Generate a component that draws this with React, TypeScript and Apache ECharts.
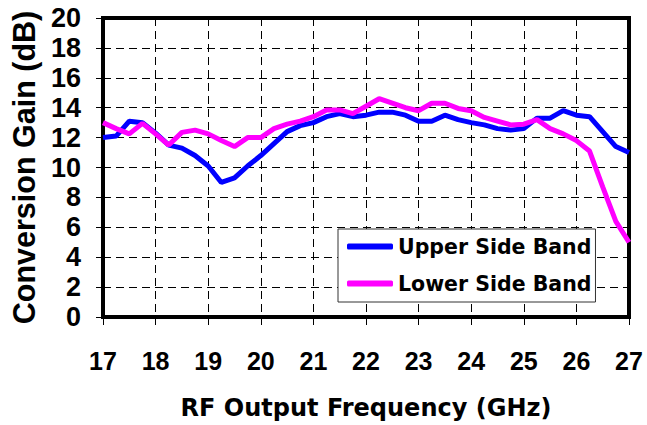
import React, { useEffect, useRef } from "react";
import * as echarts from "echarts";

const freqGHz = [
  17.0, 17.25, 17.5, 17.75, 18.0, 18.25, 18.5, 18.75, 19.0, 19.25, 19.5, 19.75,
  20.0, 20.25, 20.5, 20.75, 21.0, 21.25, 21.5, 21.75, 22.0, 22.25, 22.5, 22.75,
  23.0, 23.25, 23.5, 23.75, 24.0, 24.25, 24.5, 24.75, 25.0, 25.25, 25.5, 25.75,
  26.0, 26.25, 26.5, 26.75, 27.0,
];

const upperSideBand = [
  12.0, 12.1, 13.1, 13.0, 12.3, 11.5, 11.3, 10.8, 10.1, 9.0, 9.3, 10.1,
  10.8, 11.6, 12.4, 12.8, 13.0, 13.4, 13.6, 13.4, 13.5, 13.7, 13.7, 13.5,
  13.1, 13.1, 13.5, 13.2, 13.0, 12.85, 12.6, 12.5, 12.6, 13.3, 13.3, 13.8,
  13.5, 13.4, 12.4, 11.4, 11.0,
];

const lowerSideBand = [
  13.0, 12.6, 12.25, 12.95, 12.25, 11.5, 12.35, 12.5, 12.25, 11.8, 11.4, 12.0,
  12.0, 12.6, 12.9, 13.1, 13.4, 13.85, 13.85, 13.6, 14.1, 14.6, 14.3, 14.0,
  13.8, 14.3, 14.3, 13.95, 13.8, 13.35, 13.1, 12.85, 12.9, 13.2, 12.6, 12.25,
  11.8, 11.1, 8.7, 6.4, 5.0,
];

const seriesNames = ["Upper Side Band", "Lower Side Band"];
const xAxisTitle = "RF Output Frequency (GHz)";
const yAxisTitle = "Conversion Gain (dB)";

export default function App() {
  const ref = useRef<HTMLDivElement>(null);

  useEffect(() => {
    if (!ref.current) return;
    const chart = echarts.init(ref.current, null, { renderer: "svg" });
    const dash = [8, 5];
    chart.setOption({
      animation: false,
      backgroundColor: "#ffffff",
      grid: {
        left: 102,
        right: 18,
        top: 18,
        bottom: 107,
        show: true,
        borderColor: "#000",
        borderWidth: 4,
        backgroundColor: "transparent",
      },
      legend: {
        orient: "vertical",
        left: 338,
        top: 229,
        padding: [7, 4, 8, 9],
        itemGap: 16,
        itemWidth: 46,
        itemHeight: 6,
        icon: "roundRect",
        backgroundColor: "#fff",
        borderColor: "#333",
        borderWidth: 1,
        borderRadius: 0,
        data: seriesNames,
        textStyle: {
          fontFamily: "DejaVu Sans",
          fontWeight: "bold",
          fontSize: 20.5,
          color: "#000",
        },
      },
      xAxis: {
        type: "value",
        min: 17,
        max: 27,
        interval: 1,
        name: xAxisTitle,
        nameLocation: "middle",
        nameGap: 79,
        nameTextStyle: {
          fontFamily: "DejaVu Sans",
          fontWeight: "bold",
          fontSize: 24,
          color: "#000",
        },
        axisLine: { show: true, onZero: false, lineStyle: { color: "#000", width: 3 } },
        axisTick: { show: true, inside: false, length: 8, lineStyle: { color: "#000", width: 1 } },
        axisLabel: {
          margin: 31,
          fontFamily: "Liberation Sans",
          fontWeight: "bold",
          fontSize: 25,
          color: "#000",
        },
        splitLine: { show: true, lineStyle: { color: "#000", width: 1, type: dash } },
      },
      yAxis: {
        type: "value",
        min: 0,
        max: 20,
        interval: 2,
        name: yAxisTitle,
        nameLocation: "middle",
        nameGap: 64,
        nameTextStyle: {
          fontFamily: "Liberation Sans",
          fontWeight: "bold",
          fontSize: 30.5,
          color: "#000",
        },
        axisLine: { show: true, onZero: false, lineStyle: { color: "#000", width: 4 } },
        axisTick: { show: true, inside: false, length: 7, lineStyle: { color: "#000", width: 1 } },
        axisLabel: {
          margin: 22,
          fontFamily: "Liberation Sans",
          fontWeight: "bold",
          fontSize: 27,
          color: "#000",
        },
        splitLine: { show: true, lineStyle: { color: "#000", width: 1, type: dash } },
      },
      series: [
        {
          name: seriesNames[0],
          type: "line",
          data: freqGHz.map((f, i) => [f, upperSideBand[i]]),
          symbol: "none",
          color: "#0000ff",
          lineStyle: { color: "#0000ff", width: 5 },
          z: 3,
        },
        {
          name: seriesNames[1],
          type: "line",
          data: freqGHz.map((f, i) => [f, lowerSideBand[i]]),
          symbol: "none",
          color: "#ff00ff",
          lineStyle: { color: "#ff00ff", width: 5 },
          z: 4,
        },
      ],
    });
    return () => chart.dispose();
  }, []);

  return (
    <div
      ref={ref}
      style={{ width: 647, height: 425, position: "absolute", left: 0, top: 0 }}
    />
  );
}
